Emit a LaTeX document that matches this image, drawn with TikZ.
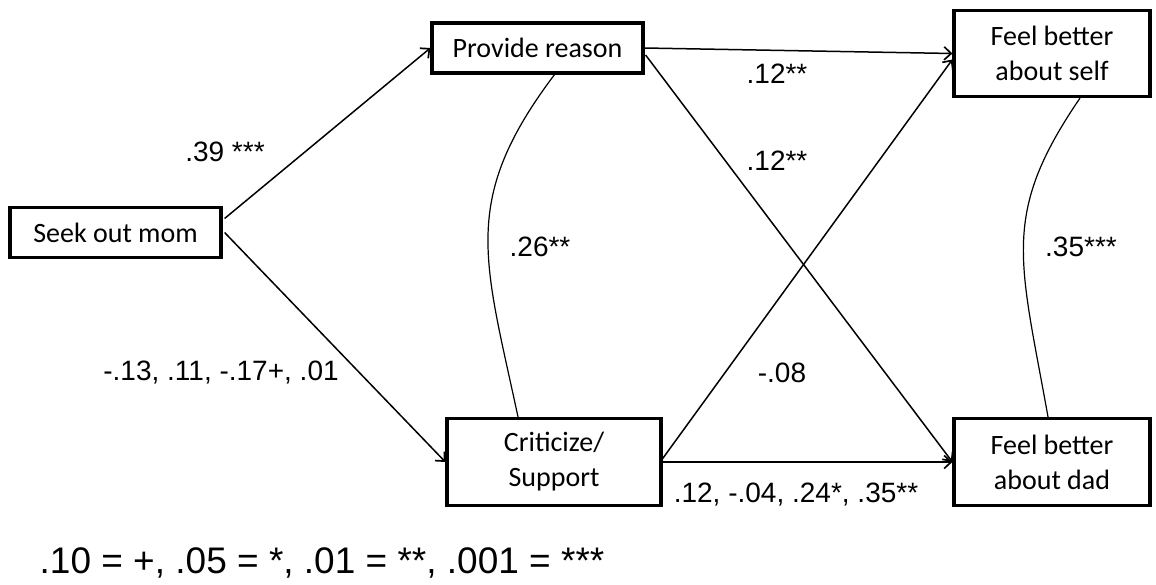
\documentclass[tikz,border=0pt]{standalone}
\usepackage{fontspec}
\setmainfont{Liberation Sans}
\newfontfamily\boxfont{Carlito}
\usetikzlibrary{arrows.meta,calc}
\begin{document}
\begin{tikzpicture}[x=1pt,y=-1pt,
  boxnode/.style={draw,line width=3.2pt,align=center,inner sep=0pt,
    font=\boxfont\fontsize{28}{35}\selectfont},
  lbl/.style={inner sep=0pt,font=\fontsize{28}{32}\selectfont},
  arr/.style={line width=1.5pt,-{Straight Barb[length=7pt,width=13pt,line width=1.7pt]}},
  corr/.style={line width=1.2pt}]
\useasboundingbox (0,0) rectangle (1156,584);
\node[boxnode,minimum width=211pt,minimum height=50pt] (seek) at (115.5,232.5) {Seek out mom};
\node[boxnode,minimum width=211pt,minimum height=50pt] (reason) at (537.5,48) {Provide reason};
\node[boxnode,minimum width=196pt,minimum height=86pt] (self) at (1052,53.5) {Feel better\\about self};
\node[boxnode,minimum width=214pt,minimum height=87pt] (crit) at (554,462) {Criticize/\\Support};
\node[boxnode,minimum width=196pt,minimum height=87pt] (dad) at (1052,462) {Feel better\\about dad};

\draw[arr] ($(seek.east)+(2,-14)$) -- (reason.west);
\draw[arr] ($(seek.east)+(2,0)$) -- (crit.west);
\draw[arr] (reason.east) -- (self.west);
\draw[arr] ($(reason.east)+(1,7)$) -- (dad.west);
\draw[arr] ($(crit.east)+(-1,-2)$) -- ($(self.west)+(0,6)$);
\draw[arr] (crit.east) -- (dad.west);

\draw[corr] ($(reason.south)+(17,0)$) .. controls (460,200) and (484,258) .. ($(crit.north)+(-36,0)$);
\draw[corr] ($(self.south)+(28,0)$) .. controls (1000,215) and (1020,260) .. ($(dad.north)+(-4,0)$);

\node[lbl] (l39) at (225,152) {.39 ***};
\node[lbl] (l26) at (540,247) {.26**};
\node[lbl] (l12a) at (777,74) {.12**};
\node[lbl] (l12b) at (777,161) {.12**};
\node[lbl] (l35) at (1081,247) {.35***};
\node[lbl] (lneg) at (221,373) {-.13, .11, -.17+, .01};
\node[lbl] (l08) at (782,373) {-.08};
\node[lbl] (lbot) at (796,495) {.12, -.04, .24*, .35**};
\node[inner sep=0pt,font=\fontsize{37}{40}\selectfont] (legend) at (322,563) {.10 = +, .05 = *, .01 = **, .001 = ***};
\end{tikzpicture}
\end{document}
